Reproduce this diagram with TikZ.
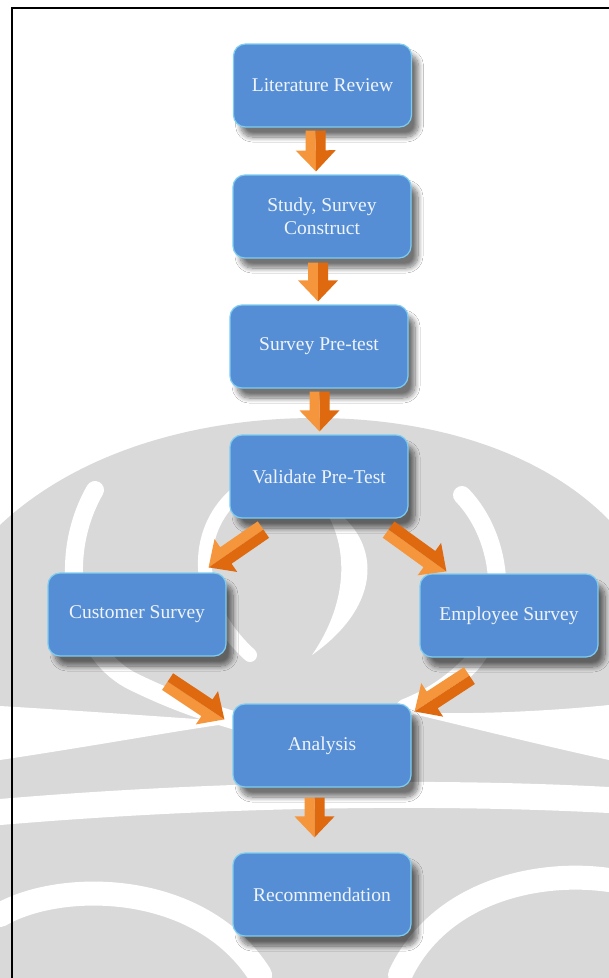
\documentclass[tikz,border=0pt]{standalone}
\usepackage{fontspec}
\setmainfont{Liberation Serif}
\usetikzlibrary{calc,shadows.blur}

\definecolor{boxblue}{RGB}{85,142,213}
\definecolor{boxrim}{RGB}{125,205,240}
\definecolor{boxtext}{RGB}{240,244,250}
\definecolor{arrowlight}{RGB}{245,150,60}
\definecolor{arrowdark}{RGB}{222,105,15}
\definecolor{markgray}{RGB}{217,217,217}

\tikzset{
  stage/.style={rectangle, rounded corners=12pt, minimum width=178pt, minimum height=83pt,
    inner sep=2pt, fill=boxblue, draw=boxrim, line width=1.2pt, text=boxtext, align=center,
    font=\fontsize{19.5}{23.5}\selectfont,
    blur shadow={shadow xshift=7pt, shadow yshift=-10pt, shadow blur radius=5pt,
      shadow blur steps=10, shadow opacity=55}},
  band/.style={draw=white, line width=18pt, line cap=round},
  pagerule/.style={draw=black, line width=2.4pt}
}

% block arrow from tail #1 to tip #2
\newcommand{\fatarrow}[2]{%
  \fill[arrowlight] (#1) -- ($(#1)!10pt!-90:(#2)$) -- ($(#2)!21pt!(#1)!10pt!-90:(#2)$)
    -- ($(#2)!21pt!(#1)!20pt!-90:(#2)$) -- (#2) -- cycle;
  \fill[arrowdark] (#1) -- ($(#1)!10pt!90:(#2)$) -- ($(#2)!21pt!(#1)!10pt!90:(#2)$)
    -- ($(#2)!21pt!(#1)!20pt!90:(#2)$) -- (#2) -- cycle;
}

\begin{document}
\begin{tikzpicture}[x=1pt, y=-1pt]
\useasboundingbox (0,0) rectangle (609,978);
\fill[white] (0,0) rectangle (609,978);
%watermark
\fill[markgray] (0,525) .. controls (80,450) and (200,418) .. (315,418) .. controls (430,418) and (540,450) .. (609,520) -- (609,978) -- (0,978) -- cycle;
\draw[band] (95,490) .. controls (55,560) and (75,650) .. (130,680) .. controls (170,700) and (205,712) .. (240,722);
\draw[band, line width=14pt] (235,495) .. controls (195,530) and (190,600) .. (250,655);
\fill[white] (318,500) .. controls (380,530) and (390,600) .. (312,655) .. controls (350,600) and (350,540) .. (318,500) -- cycle;
\draw[band] (462,495) .. controls (505,540) and (510,620) .. (470,665) .. controls (450,685) and (430,698) .. (405,708);
\fill[white] (0,706) .. controls (100,712) and (180,718) .. (240,722) .. controls (180,730) and (100,745) .. (0,760) -- cycle;
\fill[white] (609,705) .. controls (540,712) and (460,715) .. (405,712) .. controls (460,725) and (540,745) .. (609,760) -- cycle;
\draw[band, line width=26pt] (0,812) .. controls (200,795) and (420,790) .. (609,800);
\draw[band, line width=24pt] (0,915) .. controls (60,880) and (200,880) .. (260,975);
\draw[band, line width=24pt] (400,975) .. controls (440,890) and (540,870) .. (609,880);
%frame
\draw[pagerule] (12,980) -- (12,8) -- (611,8);
%stages
\node[stage] (lit) at (322.5,85.5) {Literature Review};
\node[stage] (study) at (322,216.5) {Study, Survey\\Construct};
\node[stage] (pretest) at (319,346.5) {Survey Pre-test};
\node[stage] (validate) at (319,476.5) {Validate Pre-Test};
\node[stage] (customer) at (137,614.5) {Customer Survey};
\node[stage] (employee) at (509,615.5) {Employee Survey};
\node[stage] (analysis) at (322,745.5) {Analysis};
\node[stage] (recom) at (322,894.5) {Recommendation};
%arrows
\coordinate (a1) at ($(lit.south)+(-7,3)$);
\coordinate (b1) at ($(study.north)+(-6,-3)$);
\coordinate (a2) at ($(study.south)+(-4,4)$);
\coordinate (b2) at ($(pretest.north)+(-1,-3)$);
\coordinate (a3) at ($(pretest.south)+(0.5,3)$);
\coordinate (b3) at ($(validate.north)+(0.5,-3)$);
\coordinate (a4) at ($(validate.south west)+(34,11)$);
\coordinate (b4) at ($(customer.north east)+(-18,-5)$);
\coordinate (a5) at ($(validate.south east)+(-20,11)$);
\coordinate (b5) at ($(employee.north west)+(27,-2)$);
\coordinate (a6) at ($(customer.south east)+(-59,25)$);
\coordinate (b6) at ($(analysis.north west)+(-8,16)$);
\coordinate (a7) at ($(employee.south west)+(50,18)$);
\coordinate (b7) at ($(analysis.north east)+(3,8)$);
\coordinate (a8) at ($(analysis.south)+(-7.5,10)$);
\coordinate (b8) at ($(recom.north)+(-7.5,-15)$);
\foreach \i in {1,...,8}
  \fatarrow{a\i}{b\i};
\end{tikzpicture}
\end{document}
